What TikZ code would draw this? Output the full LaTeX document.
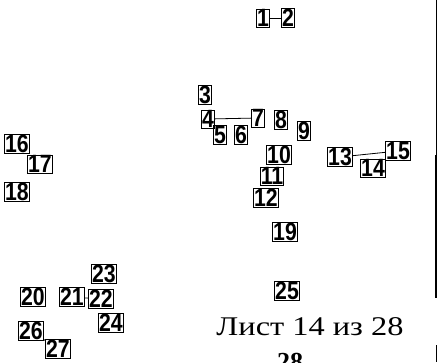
\documentclass[tikz,border=0pt]{standalone}
\usepackage{fontspec}
\setmainfont{Liberation Serif}
\newfontfamily\numfont[FakeStretch=0.85]{Liberation Sans}
\newfontfamily\sheetfont[FakeStretch=1.2]{Liberation Serif}
\begin{document}
\begin{tikzpicture}[
        x=1pt, y=-1pt,
        num/.style={draw, line width=0.7pt, inner sep=0.5pt, font=\numfont\bfseries\fontsize{25}{25}\selectfont},
        link/.style={line width=0.8pt},
        edge/.style={line width=0.6pt}
    ]
        \useasboundingbox (0,0) rectangle (447,362);

        % numbered labels
        \foreach \lab/\x/\y in {1/263/18, 2/288/18, 3/205/95, 4/208/119, 5/220/135, 6/241/135,
                7/258/118, 8/281/120, 9/304/131, 10/279/155, 11/272/176, 12/266/198,
                13/340/157, 14/373/168, 15/398/151, 16/17/144, 17/40/164, 18/17/192,
                19/285/232, 25/287/291, 20/33/297, 21/72/297, 22/101/299, 23/104/274,
                24/111/323, 26/31/331, 27/58/349}
            \node[num] (n\lab) at (\x,\y) {\lab};

        % connectors
        \draw[link] (n1) -- (n2);
        \draw[link] (n4) -- (n7);
        \draw[link] (n13) -- (n15);
        \draw[link] (n21) -- (n22);
        \draw[link] (n26) -- (n27);

        % sheet footer and frame edge
        \node[font=\sheetfont\fontsize{27}{27}\selectfont] (sheet) at (310,327) {Лист 14 из 28};
        \node[font=\bfseries\fontsize{26}{26}\selectfont, anchor=north] (next) at (290,350) {28};
        \draw[edge] (436,0) -- (436,155);
        \draw[line width=1.6pt] (436,155) -- (436,298);
        \draw[edge] (436,345) -- (436,362);
\end{tikzpicture}
\end{document}
